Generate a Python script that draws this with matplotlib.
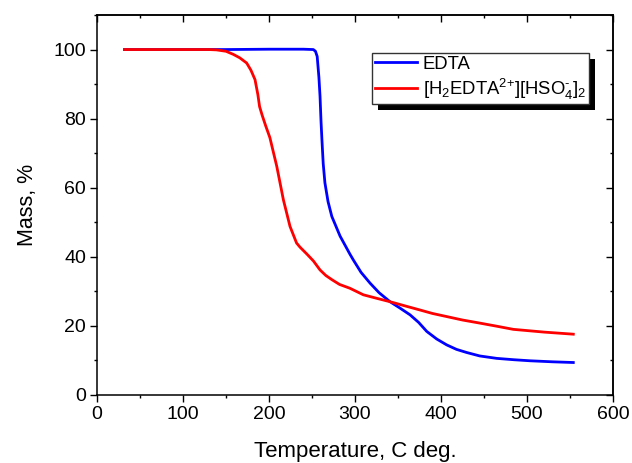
import matplotlib
matplotlib.use("Agg")
import matplotlib.pyplot as plt
from matplotlib.ticker import MultipleLocator
from matplotlib.patches import Rectangle

plt.rcParams['font.family'] = ['Liberation Sans', 'DejaVu Sans']
plt.rcParams['mathtext.fontset'] = 'custom'
plt.rcParams['mathtext.rm'] = 'Liberation Sans'
plt.rcParams['mathtext.it'] = 'Liberation Sans'
plt.rcParams['mathtext.bf'] = 'Liberation Sans:bold'

# EDTA
edta_t = [32, 100, 150, 200, 240, 251.5, 254, 256, 258, 259.3, 260.5, 261.5, 263, 265,
          268.6, 273, 282.6, 294, 298, 307, 317.4, 328, 340.7, 352, 364, 374, 383.4,
          395, 406.6, 418, 429.8, 445, 464.7, 485, 503.5, 530, 553.8]
edta_m = [100, 100, 100, 100.1, 100.1, 100, 99.5, 98, 92, 86.5, 79, 74, 67, 61.4,
          56, 51.7, 46, 40.8, 39.1, 35.5, 32.4, 29.6, 27, 25.2, 23.2, 21, 18.4,
          16.2, 14.5, 13.2, 12.3, 11.3, 10.6, 10.2, 9.9, 9.6, 9.4]

# [H2EDTA2+][HSO4-]2
salt_t = [32, 100, 130, 139, 150, 158.5, 166, 174, 179, 183.7, 187, 189, 192, 196, 201,
          209, 216.7, 224.4, 232, 236, 244, 251.6, 259.3, 266, 273, 282, 294, 309.7,
          325, 340.7, 358, 375.6, 390, 406.6, 425, 445.3, 465, 484, 520, 553.8]
salt_m = [100, 100, 100, 99.9, 99.5, 98.6, 97.6, 96.1, 94, 91.3, 87, 83.5, 81, 78, 74.5,
          66.2, 56.5, 48.8, 44, 42.8, 40.8, 38.8, 36.2, 34.6, 33.4, 32.0, 30.9, 29.0,
          28.0, 27.0, 25.8, 24.6, 23.6, 22.7, 21.7, 20.8, 19.9, 19.0, 18.2, 17.6]

labels = ['EDTA', r'[H$_2$EDTA$^{\text{2+}}$][HSO$_4^{\text{-}}$]$_2$']
colors = ['#0000ff', '#ff0000']

fig = plt.figure(figsize=(6.32, 4.63), dpi=100)
ax = fig.add_axes([0.1535, 0.1469, 0.8165, 0.8207])

ax.plot(edta_t, edta_m, color=colors[0], lw=2.0, label=labels[0])
ax.plot(salt_t, salt_m, color=colors[1], lw=2.0, label=labels[1])

ax.set_xlim(0, 600)
ax.set_ylim(0, 110)
ax.xaxis.set_major_locator(MultipleLocator(100))
ax.xaxis.set_minor_locator(MultipleLocator(50))
ax.yaxis.set_major_locator(MultipleLocator(20))
ax.yaxis.set_minor_locator(MultipleLocator(10))

for s in ax.spines.values():
    s.set_linewidth(1.1)

ax.tick_params(which='major', direction='out', length=5, width=1.0, labelsize=14, pad=3)
ax.tick_params(which='minor', direction='out', length=2.5, width=1.0)

top = ax.secondary_xaxis('top')
top.xaxis.set_major_locator(MultipleLocator(100))
top.xaxis.set_minor_locator(MultipleLocator(50))
top.tick_params(which='major', direction='in', length=5, width=1.0, labeltop=False)
top.tick_params(which='minor', direction='in', length=2.5, width=1.0)
top.spines['top'].set_linewidth(1.1)

right = ax.secondary_yaxis('right')
right.yaxis.set_major_locator(MultipleLocator(20))
right.yaxis.set_minor_locator(MultipleLocator(10))
right.tick_params(which='major', direction='in', length=5, width=1.0, labelright=False)
right.tick_params(which='minor', direction='in', length=2.5, width=1.0)
right.spines['right'].set_linewidth(1.1)

ax.set_xlabel('Temperature, C deg.', fontsize=16, labelpad=13)
ax.set_ylabel('Mass, %', fontsize=15.5, labelpad=11)

leg = ax.legend(loc='upper left', bbox_to_anchor=(0.533, 0.90), fontsize=13.3,
                frameon=True, fancybox=False, framealpha=1, edgecolor='#333333',
                borderpad=0.15, handlelength=2.3, handletextpad=0.3, labelspacing=0.2,
                borderaxespad=0)
leg.get_frame().set_linewidth(1.0)

fig.canvas.draw()
bb = leg.get_window_extent().transformed(fig.transFigure.inverted())
dx, dy = 6 / 632, 6 / 463
shadow = Rectangle((bb.x0 + dx, bb.y0 - dy), bb.width, bb.height,
                   transform=fig.transFigure, facecolor='black', edgecolor='none', zorder=4)
fig.add_artist(shadow)
leg.remove()
fig.add_artist(leg)
leg.set_zorder(6)

fig.savefig('out.png', dpi=100)
